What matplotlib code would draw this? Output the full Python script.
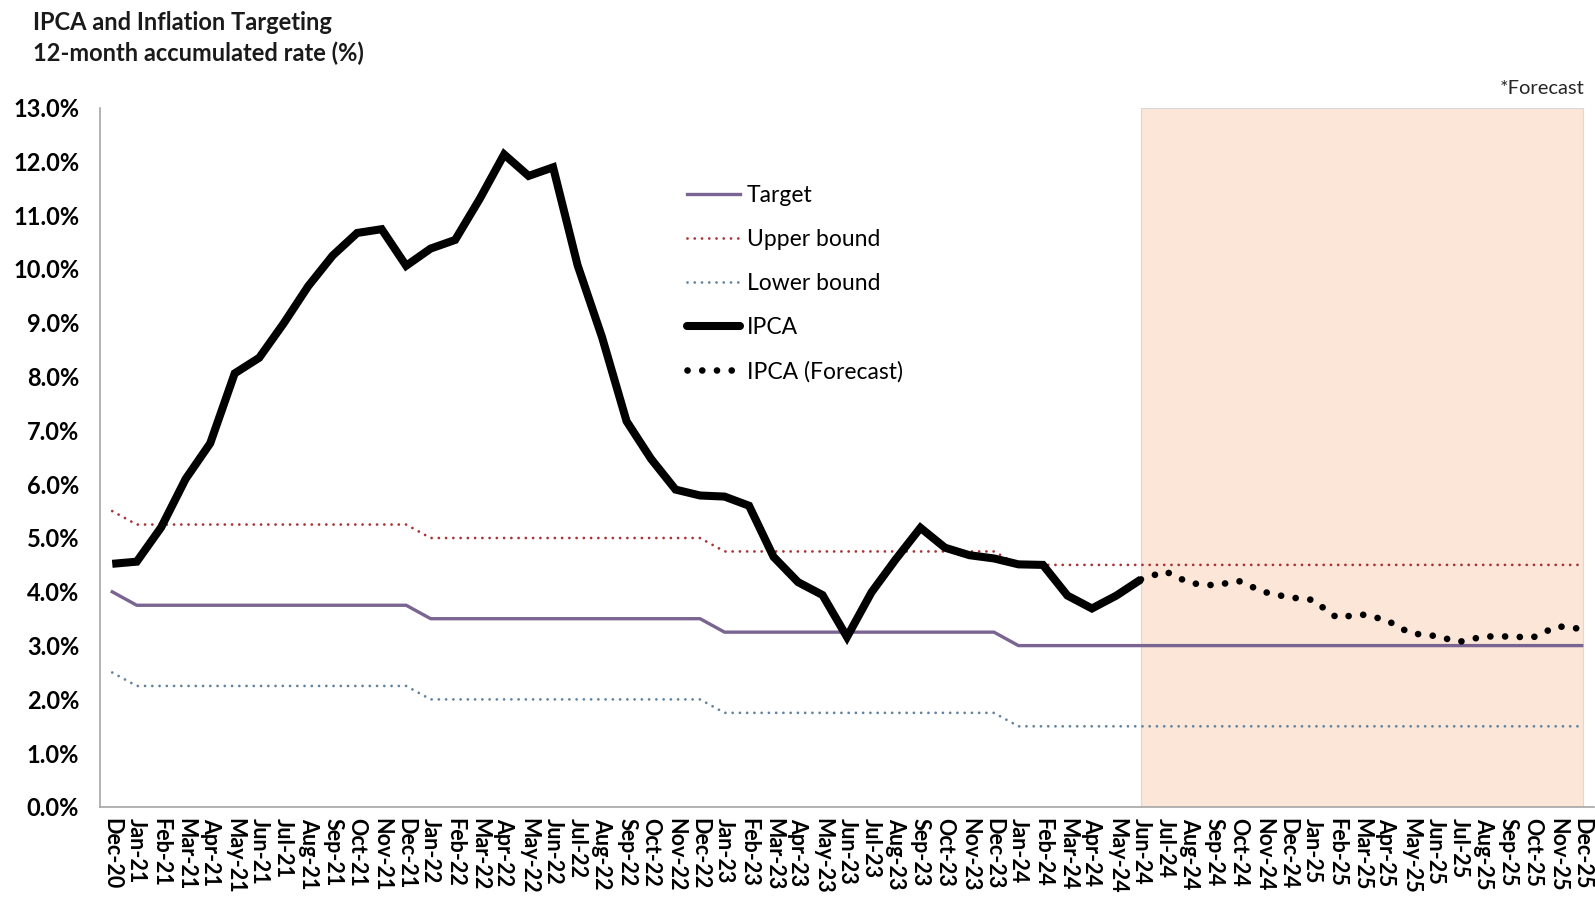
import numpy as np
import pandas as pd
import matplotlib
matplotlib.use("Agg")
import matplotlib.pyplot as plt
from matplotlib.lines import Line2D

plt.rcParams['font.family'] = ['Lato', 'DejaVu Sans']

months = pd.date_range('2020-12-01', '2025-12-01', freq='MS').strftime('%b-%y').tolist()

# 12-month IPCA, Dec-20 .. Jun-24
ipca = [4.52, 4.56, 5.20, 6.10, 6.76, 8.06, 8.35, 8.99, 9.68, 10.25, 10.67, 10.74, 10.06,
        10.38, 10.54, 11.30, 12.13, 11.73, 11.89, 10.07, 8.73, 7.17, 6.47, 5.90, 5.79,
        5.77, 5.60, 4.65, 4.18, 3.94, 3.16, 3.99, 4.61, 5.19, 4.82, 4.68, 4.62,
        4.51, 4.50, 3.93, 3.69, 3.93, 4.23]
# forecast, Jun-24 .. Dec-25
ipca_fc = [4.23, 4.38, 4.16, 4.12, 4.20, 4.00, 3.90, 3.85, 3.52, 3.58, 3.48, 3.23,
           3.18, 3.07, 3.17, 3.17, 3.15, 3.36, 3.31]

target = [4.00] + [3.75] * 12 + [3.50] * 12 + [3.25] * 12 + [3.00] * 24
upper = [5.50] + [5.25] * 12 + [5.00] * 12 + [4.75] * 12 + [4.50] * 24
lower = [2.50] + [2.25] * 12 + [2.00] * 12 + [1.75] * 12 + [1.50] * 24

W, H = 1595, 899
fig = plt.figure(figsize=(W / 100, H / 100), dpi=100)
ax = fig.add_axes([100 / W, 1 - 807 / H, 1494 / W, (807 - 107.6) / H])

x = np.arange(len(months))
fc_start = len(ipca) - 1
x_fc = np.arange(fc_start, fc_start + len(ipca_fc))

ax.axvspan(fc_start, len(months) - 0.95, color='#fbe6d7', ec='#d9d9d9', lw=0.8, zorder=0)

dot_ls = (0, (0.01, 2.6))
ax.plot(x, target, color='#7a6491', lw=2.4, zorder=2)
ax.plot(x, upper, color='#a83236', lw=2.0, ls=dot_ls, dash_capstyle='round', zorder=2)
ax.plot(x, lower, color='#62839f', lw=2.0, ls=dot_ls, dash_capstyle='round', zorder=2)
ax.plot(np.arange(len(ipca)), ipca, color='black', lw=5.8, solid_joinstyle='miter',
        solid_capstyle='butt', zorder=3)
ax.plot(x_fc, ipca_fc, color='black', lw=4.8, ls=(0, (0.01, 2.2)), dash_capstyle='round', zorder=3)

ax.set_xlim(-0.5, len(months) - 0.5)
ax.set_ylim(0, 13)
ax.set_yticks(np.arange(0, 14, 1))
ax.set_yticklabels([f'{v:.1f}%' for v in np.arange(0, 14, 1)], fontsize=17, fontweight='bold')
ax.set_xticks(x)
ax.set_xticklabels(months, rotation=270, fontsize=15.5, fontweight='bold', ha='center', va='top')
ax.tick_params(axis='y', length=0, pad=15)
ax.tick_params(axis='x', length=0, pad=8)

for s in ['top', 'right']:
    ax.spines[s].set_visible(False)
for s in ['left', 'bottom']:
    ax.spines[s].set_color('#a6a6a6')
    ax.spines[s].set_linewidth(1.2)

handles = [
    Line2D([], [], color='#7a6491', lw=2.4),
    Line2D([], [], color='#a83236', lw=2.0, ls=dot_ls, dash_capstyle='round'),
    Line2D([], [], color='#62839f', lw=2.0, ls=dot_ls, dash_capstyle='round'),
    Line2D([], [], color='black', lw=5.8, solid_capstyle='round'),
    Line2D([], [], color='black', lw=4.8, ls=(0, (0.01, 2.2)), dash_capstyle='round'),
]
labels = ['Target', 'Upper bound', 'Lower bound', 'IPCA', 'IPCA (Forecast)']
ax.legend(handles, labels, loc='upper left', bbox_to_anchor=(0.393, 0.889), frameon=False,
          fontsize=16.5, handlelength=2.3, handletextpad=0.3, labelspacing=1.0,
          borderpad=0, borderaxespad=0)

fig.text(33 / W, 1 - 30 / H, 'IPCA and Inflation Targeting', fontsize=17,
         fontweight='bold', va='baseline', color='#1a1a1a')
fig.text(33 / W, 1 - 61 / H, '12-month accumulated rate (%)', fontsize=17,
         fontweight='bold', va='baseline', color='#1a1a1a')
fig.text(1584 / W, 1 - 88 / H, '*Forecast', fontsize=14.5, ha='right', va='center',
         color='#262626')

fig.savefig('out.png', dpi=100)
